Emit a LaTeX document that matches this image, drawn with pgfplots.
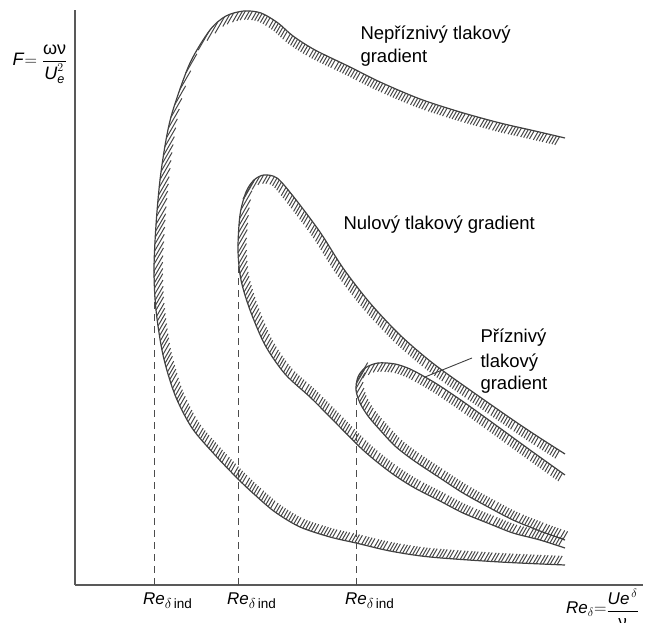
\documentclass[border=0pt]{standalone}
\usepackage{fontspec}
\setmainfont{Liberation Sans}
\usepackage{amsmath}
\usepackage{pgfplots}
\pgfplotsset{compat=1.18}
\usetikzlibrary{decorations.markings}

\def\hGx{0.5}
\def\hGy{0.86603}
\def\hdist{3.1}
\def\hw{9}
\def\hmax{22}
\gdef\hacc{0}

\tikzset{
  hatched/.style={
    line width=1.2pt, draw=black!75,
    postaction={decorate},
    decoration={markings,
      mark=between positions 0.004 and 0.996 step 1pt with {%
        \pgfgettransformentries{\hA}{\hB}{\hC}{\hD}{\hX}{\hY}%
        \pgfmathsetmacro\hN{max(veclen(\hA,\hB),0.0001)}%
        \pgfmathsetmacro\hTx{\hA/\hN}%
        \pgfmathsetmacro\hTy{\hB/\hN}%
        \pgfmathsetmacro\hS{\hTx*\hGy-\hTy*\hGx}%
        \pgfmathsetmacro\hAS{abs(\hS)}%
        \pgfmathsetmacro\hNew{\hacc+\hAS}%
        \pgfmathtruncatemacro\hDo{\hNew>=\hdist}%
        \ifnum\hDo=1
          \pgfmathsetmacro\hNew{\hNew-\hdist}%
          \pgfmathsetmacro\hSg{\hS>0 ? -1 : 1}%
          \pgfmathsetmacro\hLen{min(\hw/max(\hAS,0.05),\hmax)}%
          \pgfmathsetmacro\hDX{\hSg*\hLen*\hGx}%
          \pgfmathsetmacro\hDY{\hSg*\hLen*\hGy}%
          \begin{pgfscope}%
            \pgftransformresetnontranslations
            \pgfsetlinewidth{1pt}%
            \pgfsetstrokecolor{black!72}%
            \pgfpathmoveto{\pgfpointorigin}%
            \pgfpathlineto{\pgfpoint{\hDX pt}{\hDY pt}}%
            \pgfusepath{stroke}%
          \end{pgfscope}%
        \fi
        \xdef\hacc{\hNew}%
      }}
  }
}
\newcommand\Rind{\textit{Re}\rlap{\raisebox{-0.45ex}{\fontsize{13.5}{14}\selectfont$\delta$\,ind}}}

\begin{document}
\begin{tikzpicture}
\begin{axis}[
  disabledatascaling,
  x=1pt, y=1pt,
  scale only axis,
  xmin=75, xmax=643, ymin=0, ymax=575,
  axis lines*=left,
  axis line style={-, line width=1.2pt, black!65},
  enlargelimits=false,
  clip=false,
  ytick=\empty,
  xtick={154,238,356},
  xticklabels={\Rind,\Rind,\Rind},
  tick align=inside,
  major tick length=5pt,
  tick style={line width=1pt, black!65},
  xticklabel style={font=\fontsize{17}{20}\selectfont, yshift=-4pt},
]
% outer curve (adverse pressure gradient)
\addplot[hatched, smooth, no markers] coordinates {
(565,20) (500,23) (430,28) (390,34) (356,42) (330,48) (300,58) (275,73) (255,90)
(238,106) (215,130) (192,157) (175,190) (163,230) (156,275) (154,315)
(156,360) (160,405) (166,445) (173,475) (190,522) (210,555) (226,569)
(244,574) (261,572) (278,562) (293,549) (315,535) (350,518) (380,503)
(420,486) (460,473) (500,462) (535,454) (565,447)};
% middle curve (zero pressure gradient)
\addplot[hatched, smooth, no markers] coordinates {
(565,37) (540,45) (513,52) (490,61) (463,72) (440,84) (413,98) (390,113)
(363,135) (330,168) (310,188) (285,211) (265,240) (250,275) (241,305) (238,335)
(240,370) (246,393) (254,405) (264,410) (277,407) (293,389) (320,353)
(343,317) (370,282) (400,250) (430,224) (460,202) (513,165) (540,147)
(565,131)};
% inner curve (favourable pressure gradient)
\addplot[hatched, smooth, no markers] coordinates {
(565,45) (540,54) (513,65) (490,77) (463,92) (440,107) (413,125) (395,139)
(380,155) (368,169) (360,182) (356,195) (358,208) (365,217) (378,222)
(395,221) (410,216) (425,208) (440,199) (465,182) (497,159) (530,135) (565,110)};
% dashed indicators
\addplot[black!70, line width=0.9pt, dash pattern=on 7pt off 5pt] coordinates {(154,0) (154,315)};
\addplot[black!70, line width=0.9pt, dash pattern=on 7pt off 5pt] coordinates {(238,0) (238,335)};
\addplot[black!70, line width=0.9pt, dash pattern=on 7pt off 5pt] coordinates {(356,0) (356,195)};
% leader line
\addplot[black!75, line width=0.9pt] coordinates {(425,208) (472,227)};

\node[anchor=base west, font=\fontsize{18.5}{23}\selectfont] at (axis cs:357,545) {Nepříznivý tlakový};
\node[anchor=base west, font=\fontsize{18.5}{23}\selectfont] at (axis cs:357,522) {gradient};
\node[anchor=base west, font=\fontsize{18.5}{23}\selectfont] at (axis cs:340,355) {Nulový tlakový gradient};
\node[anchor=base west, font=\fontsize{18.5}{23}\selectfont] at (axis cs:477,242) {Příznivý};
\node[anchor=base west, font=\fontsize{18.5}{23}\selectfont] at (axis cs:477,217) {tlakový};
\node[anchor=base west, font=\fontsize{18.5}{23}\selectfont] at (axis cs:477,195) {gradient};

\node[anchor=center, font=\fontsize{18}{21}\selectfont, inner sep=0pt] at (axis cs:40,521)
  {\textit{F}$=\dfrac{\text{ων}}{\textit{U}_{\textit{e}}^{2}}$};
\node[anchor=base west, font=\fontsize{17}{20}\selectfont, inner sep=0pt] at (axis cs:566,-29)
  {\textit{Re}$_{\delta}$$=$\raisebox{-2pt}{$\dfrac{\textit{Ue}^{\,\delta}}{\text{ν}}$}};

\coordinate (BBsw) at (axis cs:0,-38);
\coordinate (BBne) at (axis cs:646,585);
\end{axis}
\pgfresetboundingbox
\path[use as bounding box] (BBsw) rectangle (BBne);
\end{tikzpicture}
\end{document}
